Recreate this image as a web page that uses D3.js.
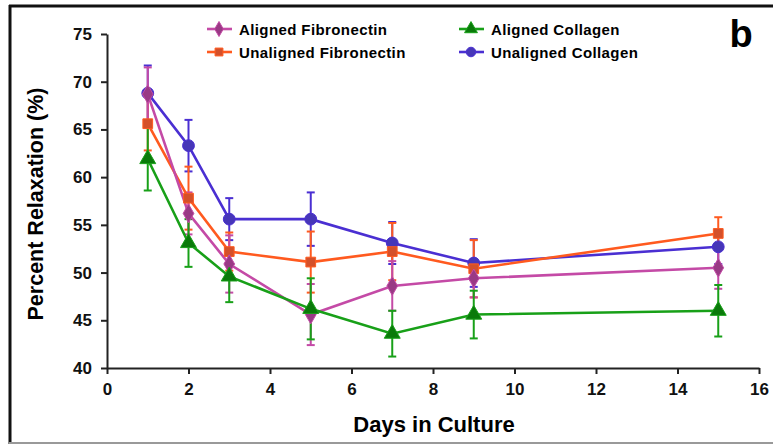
<!DOCTYPE html>
<html>
<head>
<meta charset="utf-8">
<script src="https://cdn.jsdelivr.net/npm/d3@7"></script>
<style>
  body { margin: 0; background: #fff; }
  svg { display: block; font-family: "Liberation Sans", Arial, sans-serif; }
</style>
</head>
<body>
<svg id="chart" width="773" height="446"></svg>
<script>
const days = [1, 2, 3, 5, 7, 9, 15];
const xTicks = [0, 2, 4, 6, 8, 10, 12, 14, 16];
const yTicks = [40, 45, 50, 55, 60, 65, 70, 75];

const alignedFibronectin = [68.7, 56.2, 50.9, 45.6, 48.6, 49.4, 50.5];
const alignedFibronectinErr = [2.8, 2.2, 3.0, 3.2, 2.6, 2.0, 2.2];
const unalignedFibronectin = [65.6, 57.8, 52.2, 51.1, 52.2, 50.4, 54.1];
const unalignedFibronectinErr = [2.8, 3.3, 2.0, 3.2, 3.0, 3.0, 1.7];
const alignedCollagen = [61.9, 53.1, 49.6, 46.2, 43.6, 45.6, 46.0];
const alignedCollagenErr = [3.3, 2.5, 2.7, 3.2, 2.4, 2.5, 2.7];
const unalignedCollagen = [68.8, 63.3, 55.6, 55.6, 53.1, 51.0, 52.7];
const unalignedCollagenErr = [2.9, 2.7, 2.2, 2.8, 2.2, 2.5, 1.8];

const series = [
  { name: 'Unaligned Collagen', values: unalignedCollagen, err: unalignedCollagenErr, line: '#4a2fd2', fill: '#4636b8', shape: d3.symbolCircle, size: 110 },
  { name: 'Unaligned Fibronectin', values: unalignedFibronectin, err: unalignedFibronectinErr, line: '#ff5a1f', fill: '#d4502a', shape: d3.symbolSquare, size: 95 },
  { name: 'Aligned Fibronectin', values: alignedFibronectin, err: alignedFibronectinErr, line: '#c44aa6', fill: '#993a85', shape: d3.symbolDiamond, size: 100 },
  { name: 'Aligned Collagen', values: alignedCollagen, err: alignedCollagenErr, line: '#18a018', fill: '#0a7a0a', shape: d3.symbolTriangle, size: 110 }
];

const svg = d3.select('#chart');

// frame
svg.append('line').attr('x1', 10).attr('x2', 10).attr('y1', 5).attr('y2', 444)
  .attr('stroke', '#111').attr('stroke-width', 3);
svg.append('line').attr('x1', 9).attr('x2', 773).attr('y1', 6).attr('y2', 6)
  .attr('stroke', '#111').attr('stroke-width', 3);
svg.append('line').attr('x1', 9).attr('x2', 773).attr('y1', 443).attr('y2', 443)
  .attr('stroke', '#999').attr('stroke-width', 2);

const x = d3.scaleLinear().domain([0, 16]).range([107, 759]);
const y = d3.scaleLinear().domain([40, 75]).range([368, 34]);

const xAxis = svg.append('g')
  .attr('transform', `translate(0,${y(40)})`)
  .call(d3.axisBottom(x).tickValues(xTicks).tickSize(6).tickSizeOuter(0).tickPadding(9));
const yAxis = svg.append('g')
  .attr('transform', `translate(${x(0)},0)`)
  .call(d3.axisLeft(y).tickValues(yTicks).tickSize(6).tickSizeOuter(0).tickPadding(9));

[xAxis, yAxis].forEach(a => {
  a.select('.domain').attr('stroke', '#222').attr('stroke-width', 2);
  a.selectAll('.tick line').attr('stroke', '#222').attr('stroke-width', 2);
  a.selectAll('.tick text').attr('fill', '#111').style('font-size', '17px').style('font-weight', 'bold');
});

svg.append('text')
  .attr('x', 434).attr('y', 432)
  .attr('text-anchor', 'middle')
  .style('font-size', '22px').style('font-weight', 'bold')
  .text('Days in Culture');

svg.append('text')
  .attr('transform', 'translate(43,204) rotate(-90)')
  .attr('text-anchor', 'middle')
  .style('font-size', '21.5px').style('font-weight', 'bold')
  .text('Percent Relaxation (%)');

svg.append('text')
  .attr('x', 741).attr('y', 47)
  .attr('text-anchor', 'middle')
  .style('font-size', '38px').style('font-weight', 'bold')
  .text('b');

const line = d3.line().x((d, i) => x(days[i])).y(d => y(d));

// error bars
series.forEach(s => {
  const g = svg.append('g');
  s.values.forEach((v, i) => {
    const cx = x(days[i]);
    g.append('line').attr('x1', cx).attr('x2', cx)
      .attr('y1', y(v - s.err[i])).attr('y2', y(v + s.err[i]))
      .attr('stroke', s.line).attr('stroke-width', 2);
    [v - s.err[i], v + s.err[i]].forEach(e => {
      g.append('line').attr('x1', cx - 4).attr('x2', cx + 4)
        .attr('y1', y(e)).attr('y2', y(e))
        .attr('stroke', s.line).attr('stroke-width', 2);
    });
  });
});

// lines and markers
series.forEach(s => {
  svg.append('path')
    .datum(s.values)
    .attr('d', line)
    .attr('fill', 'none')
    .attr('stroke', s.line)
    .attr('stroke-width', 2.6);
});
series.forEach(s => {
  svg.append('g').selectAll('path')
    .data(s.values)
    .enter()
    .append('path')
    .attr('transform', (d, i) => `translate(${x(days[i])},${y(d)})`)
    .attr('d', d3.symbol().type(s.shape).size(s.size))
    .attr('fill', s.fill)
    .attr('stroke', s.line)
    .attr('stroke-width', 1);
});

// legend
const legendItems = [
  { s: series[2], x: 219, y: 29 },
  { s: series[1], x: 219, y: 52 },
  { s: series[3], x: 471, y: 29 },
  { s: series[0], x: 471, y: 52 }
];
legendItems.forEach(item => {
  const g = svg.append('g').attr('transform', `translate(${item.x},${item.y})`);
  g.append('line').attr('x1', -12).attr('x2', 13)
    .attr('stroke', item.s.line).attr('stroke-width', 2.6);
  g.append('path')
    .attr('d', d3.symbol().type(item.s.shape).size(item.s.size * 0.65))
    .attr('fill', item.s.fill).attr('stroke', item.s.line).attr('stroke-width', 1);
  g.append('text')
    .attr('x', 20).attr('y', 5.5)
    .style('font-size', '15px').style('font-weight', 'bold')
    .style('letter-spacing', '0.4px')
    .text(item.s.name);
});
</script>
</body>
</html>
